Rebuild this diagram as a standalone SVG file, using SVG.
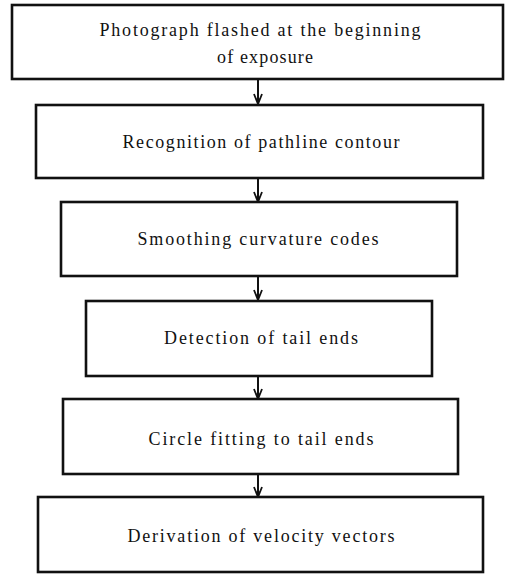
<svg xmlns="http://www.w3.org/2000/svg" width="509" height="574" viewBox="0 0 509 574">
<style>
.box{fill:#fff;stroke:#111;stroke-width:2.6}
.t{font-family:"Liberation Serif","Times New Roman",serif;font-size:18px;fill:#111;text-anchor:middle}
.c{stroke:#111;stroke-width:2;fill:none}
</style>
<defs>
<marker id="ah" viewBox="-12 -6 13 12" refX="0" refY="0" markerWidth="13" markerHeight="12" markerUnits="userSpaceOnUse" orient="auto">
<path d="M-10,-4 L0,0 L-10,4" fill="none" stroke="#111" stroke-width="1.8"/>
<path d="M-6,-1.6 L0,0 L-6,1.6 Z" fill="#111"/>
</marker>
</defs>
<rect width="509" height="574" fill="#fff"/>
<g id="connectors">
<line class="c" x1="258" y1="79" x2="258" y2="104" marker-end="url(#ah)"/>
<line class="c" x1="258" y1="178" x2="258" y2="202" marker-end="url(#ah)"/>
<line class="c" x1="258" y1="276" x2="258" y2="300" marker-end="url(#ah)"/>
<line class="c" x1="258" y1="376" x2="258" y2="399" marker-end="url(#ah)"/>
<line class="c" x1="258" y1="474" x2="258" y2="497" marker-end="url(#ah)"/>
</g>
<g id="n1">
<rect class="box" x="12" y="5" width="491" height="74"/>
<text class="t" x="260" y="36" textLength="321" lengthAdjust="spacing">Photograph flashed at the beginning</text>
<text class="t" x="265" y="63" textLength="96" lengthAdjust="spacing">of exposure</text>
</g>
<g id="n2">
<rect class="box" x="36" y="105" width="447" height="73"/>
<text class="t" x="261" y="148" textLength="277" lengthAdjust="spacing">Recognition of pathline contour</text>
</g>
<g id="n3">
<rect class="box" x="61" y="202" width="396" height="74"/>
<text class="t" x="258" y="245" textLength="241" lengthAdjust="spacing">Smoothing curvature codes</text>
</g>
<g id="n4">
<rect class="box" x="86" y="301" width="346" height="75"/>
<text class="t" x="261" y="344" textLength="194" lengthAdjust="spacing">Detection of tail ends</text>
</g>
<g id="n5">
<rect class="box" x="63" y="399" width="395" height="75"/>
<text class="t" x="261" y="445" textLength="225" lengthAdjust="spacing">Circle fitting to tail ends</text>
</g>
<g id="n6">
<rect class="box" x="38" y="497" width="445" height="75"/>
<text class="t" x="261" y="542" textLength="267" lengthAdjust="spacing">Derivation of velocity vectors</text>
</g>
</svg>
